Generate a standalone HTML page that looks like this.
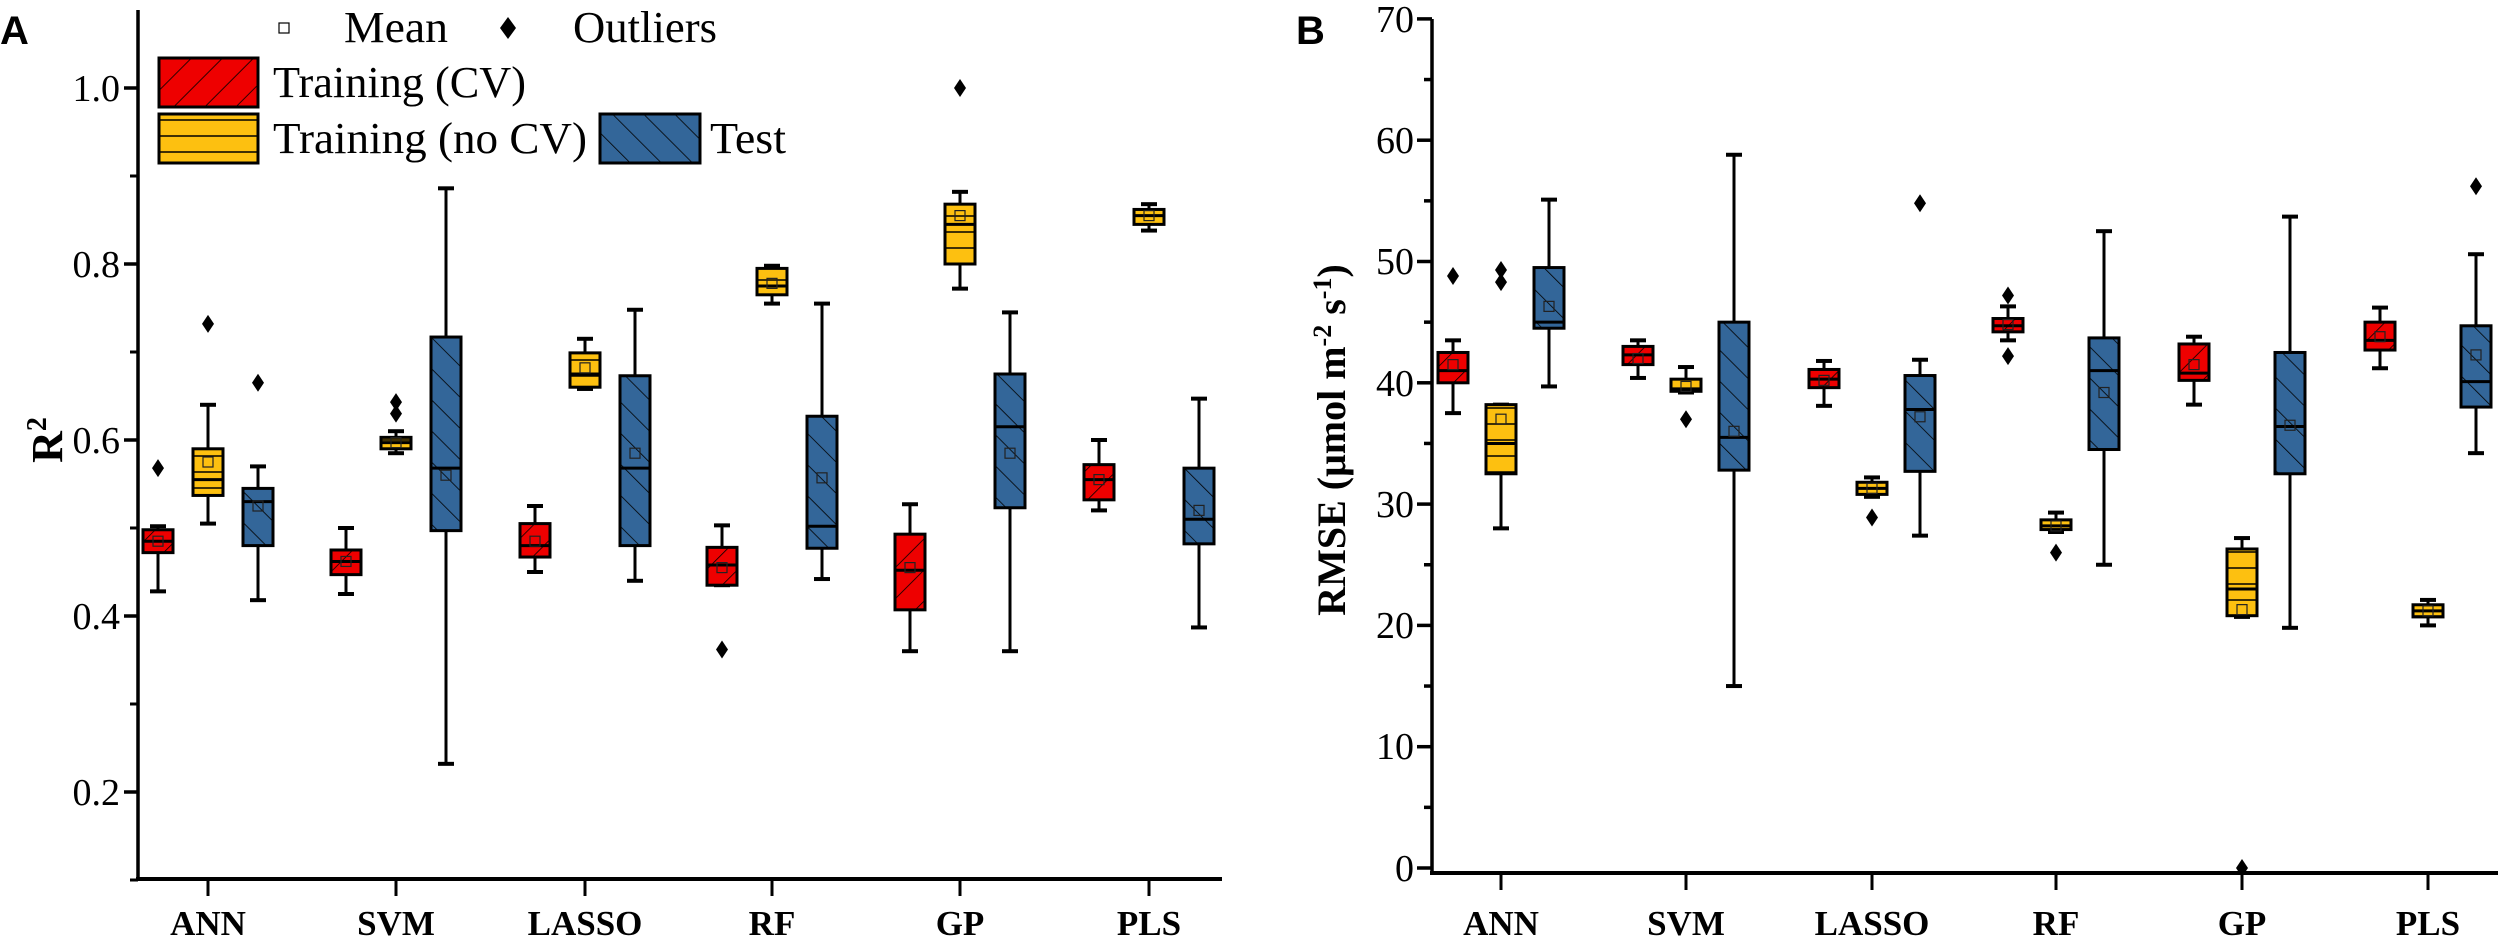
<!DOCTYPE html>
<html><head><meta charset="utf-8">
<style>
html,body{margin:0;padding:0;background:#fff;}
svg{display:block;}
text{font-family:"Liberation Serif",serif;fill:#000;}
.tk{font-size:38px;}
.cat{font-size:35px;font-weight:bold;}
.lg{font-size:44px;}
.pl{font-family:"Liberation Sans",sans-serif;font-weight:bold;font-size:40px;}
</style></head>
<body>
<svg id="s" width="2500" height="941" viewBox="0 0 2500 941" xmlns="http://www.w3.org/2000/svg">
<defs>
<pattern id="pr" patternUnits="userSpaceOnUse" width="22" height="22" patternTransform="rotate(45)">
<rect width="22" height="22" fill="#ee0000"/><line x1="0" y1="0" x2="0" y2="22" stroke="#000" stroke-width="1.6"/></pattern>
<pattern id="py" patternUnits="userSpaceOnUse" width="22" height="16">
<rect width="22" height="16" fill="#fdc010"/><line x1="0" y1="8" x2="22" y2="8" stroke="#000" stroke-width="1.6"/></pattern>
<pattern id="pb" patternUnits="userSpaceOnUse" width="22" height="22" patternTransform="rotate(-45)">
<rect width="22" height="22" fill="#336699"/><line x1="0" y1="0" x2="0" y2="22" stroke="#000" stroke-width="1.6"/></pattern>
</defs>
<g id="g"></g>
<!-- Panel A text -->
<text class="pl" x="0" y="44">A</text>
<text x="62" y="440" font-size="44" font-weight="bold" transform="rotate(-90 62 440)" text-anchor="middle">R<tspan dy="-16" font-size="28">2</tspan></text>
<text class="tk" x="120" y="101" text-anchor="end">1.0</text>
<text class="tk" x="120" y="277" text-anchor="end">0.8</text>
<text class="tk" x="120" y="453" text-anchor="end">0.6</text>
<text class="tk" x="120" y="629" text-anchor="end">0.4</text>
<text class="tk" x="120" y="805" text-anchor="end">0.2</text>
<text class="cat" x="208" y="935" text-anchor="middle">ANN</text>
<text class="cat" x="396" y="935" text-anchor="middle">SVM</text>
<text class="cat" x="585" y="935" text-anchor="middle">LASSO</text>
<text class="cat" x="772" y="935" text-anchor="middle">RF</text>
<text class="cat" x="960" y="935" text-anchor="middle">GP</text>
<text class="cat" x="1149" y="935" text-anchor="middle">PLS</text>
<rect x="279" y="23" width="10" height="10" fill="#fff" stroke="#000" stroke-width="1.2"/>
<text class="lg" x="344" y="42" textLength="104" lengthAdjust="spacingAndGlyphs">Mean</text>
<path d="M508,17 L516,28 L508,39 L500,28 Z" fill="#000"/>
<text class="lg" x="573" y="42" textLength="144" lengthAdjust="spacingAndGlyphs">Outliers</text>
<rect x="159" y="58" width="99" height="49" fill="url(#pr)" stroke="#000" stroke-width="3"/>
<text class="lg" x="273" y="97" textLength="253" lengthAdjust="spacingAndGlyphs">Training (CV)</text>
<rect x="159" y="114" width="99" height="49" fill="url(#py)" stroke="#000" stroke-width="3"/>
<text class="lg" x="273" y="153" textLength="314" lengthAdjust="spacingAndGlyphs">Training (no CV)</text>
<rect x="600" y="114" width="100" height="49" fill="url(#pb)" stroke="#000" stroke-width="3"/>
<text class="lg" x="710" y="153" textLength="76" lengthAdjust="spacingAndGlyphs">Test</text>
<!-- Panel B text -->
<text class="pl" x="1296" y="44">B</text>
<text x="1345" y="440" font-size="40" font-weight="bold" transform="rotate(-90 1345 440)" text-anchor="middle">RMSE (μmol m<tspan dy="-14" font-size="26">-2</tspan><tspan dy="14"> s</tspan><tspan dy="-14" font-size="26">-1</tspan><tspan dy="14">)</tspan></text>
<text class="cat" x="1501" y="935" text-anchor="middle">ANN</text>
<text class="cat" x="1686" y="935" text-anchor="middle">SVM</text>
<text class="cat" x="1872" y="935" text-anchor="middle">LASSO</text>
<text class="cat" x="2056" y="935" text-anchor="middle">RF</text>
<text class="cat" x="2242" y="935" text-anchor="middle">GP</text>
<text class="cat" x="2428" y="935" text-anchor="middle">PLS</text>
<text class="tk" x="1414" y="32" text-anchor="end">70</text>
<text class="tk" x="1414" y="153" text-anchor="end">60</text>
<text class="tk" x="1414" y="274" text-anchor="end">50</text>
<text class="tk" x="1414" y="396" text-anchor="end">40</text>
<text class="tk" x="1414" y="517" text-anchor="end">30</text>
<text class="tk" x="1414" y="638" text-anchor="end">20</text>
<text class="tk" x="1414" y="759" text-anchor="end">10</text>
<text class="tk" x="1414" y="881" text-anchor="end">0</text>
</svg>
<script>
var g=document.getElementById('g');var h='';
function L(x1,y1,x2,y2,w){h+='<line x1="'+x1+'" y1="'+y1+'" x2="'+x2+'" y2="'+y2+'" stroke="#000" stroke-width="'+(w||3)+'"/>';}
L(138,10,138,880,3.5);L(136,879,1222,879,4);
[0.2,0.4,0.6,0.8,1.0].forEach(function(v){var y=88+(1-v)*880;L(124,y,138,y,3.5);});
[0.1,0.3,0.5,0.7,0.9].forEach(function(v){var y=88+(1-v)*880;L(130,y,138,y,3);});
[208,396,585,772,960,1149].forEach(function(x){L(x,879,x,896,3);});
L(1432,19,1432,874,3.5);L(1430,873,2498,873,4);
for(var v=0;v<=70;v+=5){var y=868-v*12.13;L(v%10?1424:1417,y,1432,y,3.5);}
[1501,1686,1872,2056,2242,2428].forEach(function(x){L(x,873,x,890,3);});
var fills=['url(#pr)','url(#py)','url(#pb)'];
function box(x,d,f,Y){var wl=Y(d[0]),q1=Y(d[1]),md=Y(d[2]),q3=Y(d[3]),wh=Y(d[4]),mn=Y(d[5]);
L(x,wh,x,q3,3);L(x,q1,x,wl,3);L(x-8,wh,x+8,wh,4);L(x-8,wl,x+8,wl,4);
h+='<rect x="'+(x-15)+'" y="'+q3+'" width="30" height="'+Math.max(q1-q3,2)+'" fill="'+f+'" stroke="#000" stroke-width="3"/>';
L(x-15,md,x+15,md,3);
h+='<rect x="'+(x-5)+'" y="'+(mn-5)+'" width="10" height="10" fill="none" stroke="#222" stroke-width="1.2"/>';
(d[6]||[]).forEach(function(o){var y=Y(o);h+='<path d="M'+x+','+(y-9)+' L'+(x+6)+','+y+' L'+x+','+(y+9)+' L'+(x-6)+','+y+' Z" fill="#000"/>';});}
var YA=function(v){return 88+(1-v)*880;};
var A=[
[[.428,.472,.485,.498,.502,.485,[.568]],[.505,.537,.555,.59,.64,.575,[.732]],[.418,.48,.53,.545,.57,.525,[.665]]],
[[.425,.447,.462,.475,.50,.462],[.585,.59,.597,.603,.61,.597,[.643,.630]],[.232,.497,.568,.717,.886,.56]],
[[.45,.467,.48,.505,.525,.485],[.658,.66,.675,.699,.715,.682],[.44,.48,.568,.673,.748,.585]],
[[.435,.435,.458,.478,.503,.455,[.362]],[.755,.765,.775,.795,.798,.778],[.442,.477,.502,.627,.755,.557]],
[[.36,.407,.452,.493,.527,.455],[.772,.80,.845,.868,.882,.855,[1.0]],[.36,.523,.615,.675,.745,.585]],
[[.52,.532,.555,.572,.60,.555],[.838,.845,.855,.862,.868,.855],[.387,.482,.51,.568,.647,.52]]];
var cA=[208,396,585,772,960,1149];
A.forEach(function(c,i){c.forEach(function(d,j){box(cA[i]+(j-1)*50,d,fills[j],YA);});});
var YB=function(v){return 868-v*12.13;};
var B=[
[[37.5,40,41,42.5,43.5,41.5,[48.8]],[28,32.5,35,38.2,38.2,37,[48.3,49.3]],[39.7,44.5,45,49.5,55.1,46.3]],
[[40.4,41.5,42.3,43,43.5,42],[39.2,39.3,39.5,40.3,41.3,39.7,[37]],[15,32.8,35.5,45,58.8,36]],
[[38.1,39.6,40.3,41.1,41.8,40.2],[30.6,30.8,31.3,31.8,32.2,31.3,[28.9]],[27.4,32.7,37.8,40.6,41.9,37.2,[54.8]]],
[[43.5,44.2,44.7,45.3,46.3,44.8,[47.2,42.2]],[27.7,27.9,28.2,28.7,29.3,28.2,[26]],[25,34.5,41,43.7,52.5,39.2]],
[[38.2,40.2,40.8,43.2,43.8,41.5],[20.7,20.8,23,26.3,27.2,21.3,[0]],[19.8,32.5,36.4,42.5,53.7,36.5]],
[[41.2,42.7,43.5,45,46.2,43.8],[20,20.7,21.2,21.7,22.1,21.2],[34.2,38,40.1,44.7,50.6,42.3,[56.2]]]];
var cB=[1501,1686,1872,2056,2242,2428];
B.forEach(function(c,i){c.forEach(function(d,j){box(cB[i]+(j-1)*48,d,fills[j],YB);});});
g.innerHTML=h;
</script>
</body></html>
